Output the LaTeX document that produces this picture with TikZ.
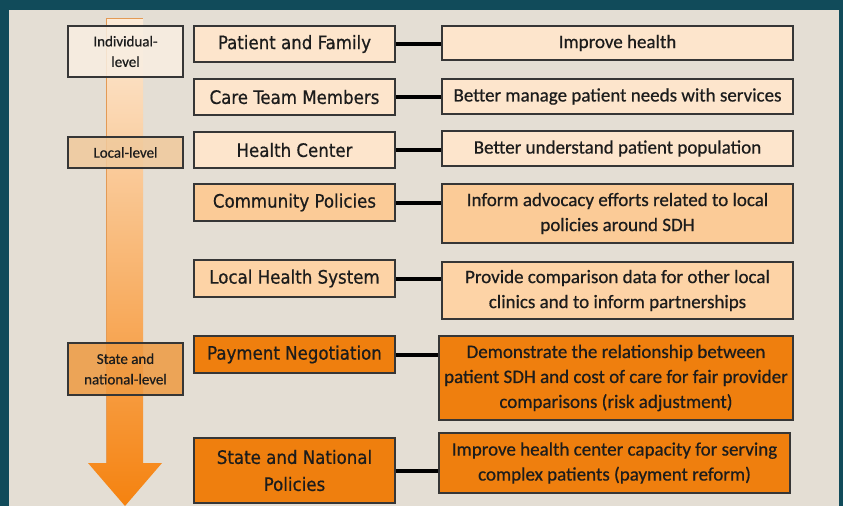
\documentclass[tikz,border=0pt]{standalone}
\usepackage{fontspec}
\setmainfont[FakeBold=0.6]{Carlito}
\newfontfamily\midfont[FakeBold=0.6]{DejaVu Sans Condensed}
\usetikzlibrary{positioning}
\definecolor{frame}{HTML}{114B5A}
\definecolor{bg}{HTML}{E4DED4}
\definecolor{fillA}{HTML}{FDE5CC}
\definecolor{fillB}{HTML}{FBCB97}
\definecolor{fillC}{HTML}{FDD3A6}
\definecolor{fillO}{HTML}{EF7F0E}
\definecolor{lvlA}{HTML}{F8EEE2}
\definecolor{lvlB}{HTML}{F0CA9C}
\definecolor{lvlC}{HTML}{EE9A42}
\definecolor{bord}{HTML}{363636}
\definecolor{txt}{HTML}{1C1C1C}
\definecolor{arrTop}{HTML}{FCEBD8}
\definecolor{arrBot}{HTML}{F5820F}
\definecolor{arrLine}{HTML}{E39A55}
\tikzset{
  box/.style={draw=bord, line width=1.6pt, inner sep=0pt, align=center, text=txt},
  midbox/.style={box, minimum width=201pt, font={\midfont\fontsize{18.5}{27}\selectfont}},
  rightbox/.style={box, font={\fontsize{19}{25}\selectfont}},
  lvlbox/.style={box, minimum width=115pt, fill opacity=0.85, text opacity=1, font={\fontsize{15}{20.5}\selectfont}},
  link/.style={line width=4pt, black}
}
\begin{document}
\begin{tikzpicture}[x=1pt,y=-1pt]
\useasboundingbox (0,0) rectangle (843,506);
% frame and background
\fill[frame] (0,0) rectangle (843,506);
\fill[bg] (9,10) rectangle (839,506);
% big arrow
\shade[top color=arrTop, bottom color=arrBot]
  (106,18) -- (143,18) -- (143,463) -- (162,463) -- (125,506) -- (88,463) -- (106,463) -- cycle;
\draw[arrLine, line width=0.8pt] (106,463) -- (106,18) -- (143,18);
% level boxes
\node[lvlbox, fill=lvlA, minimum height=51pt] (il) at (125.5,51.5) {Individual-\\level};
\node[lvlbox, fill=lvlB, minimum height=31pt] (ll) at (125.5,152.5) {Local-level};
\node[lvlbox, fill=lvlC, minimum height=52pt] (sl) at (125.5,369) {State and\\national-level};
% middle column
\node[midbox, fill=fillA, minimum height=36pt] (pf) at (294.5,44) {Patient and Family};
\node[midbox, fill=fillA, minimum height=36pt] (ct) at (294.5,97) {Care Team Members};
\node[midbox, fill=fillA, minimum height=36pt] (hc) at (294.5,150) {Health Center};
\node[midbox, fill=fillB, minimum height=37pt] (cp) at (294.5,202.5) {Community Policies};
\node[midbox, fill=fillC, minimum height=37pt] (lh) at (294.5,278.5) {Local Health System};
\node[midbox, fill=fillO, minimum height=37pt] (pn) at (294.5,354.5) {Payment Negotiation};
\node[midbox, fill=fillO, minimum height=65pt] (sn) at (294.5,470.5) {State and National\\Policies};
% right column
\node[rightbox, fill=fillA, minimum width=351pt, minimum height=34pt] (ih) at (617.5,43) {Improve health};
\node[rightbox, fill=fillA, minimum width=351pt, minimum height=35pt] (bm) at (617.5,96.5) {Better manage patient needs with services};
\node[rightbox, fill=fillA, minimum width=351pt, minimum height=35pt] (bu) at (617.5,148.5) {Better understand patient population};
\node[rightbox, fill=fillB, minimum width=351pt, minimum height=59pt] (ia) at (617.5,213.5) {Inform advocacy efforts related to local\\policies around SDH};
\node[rightbox, fill=fillC, minimum width=351pt, minimum height=57pt] (pc) at (617.5,290.5) {Provide comparison data for other local\\clinics and to inform partnerships};
\node[rightbox, fill=fillO, minimum width=354pt, minimum height=84pt] (dm) at (616,378) {Demonstrate the relationship between\\patient SDH and cost of care for fair provider\\comparisons (risk adjustment)};
\node[rightbox, fill=fillO, minimum width=351pt, minimum height=60pt] (ic) at (614.5,463) {Improve health center capacity for serving\\complex patients (payment reform)};
% connectors
\draw[link] (pf.east) -- (pf.east -| ih.west);
\draw[link] (ct.east) -- (ct.east -| bm.west);
\draw[link] (hc.east) -- (hc.east -| bu.west);
\draw[link] (cp.east) -- (cp.east -| ia.west);
\draw[link] (lh.east) -- (lh.east -| pc.west);
\draw[link] (pn.east) -- (pn.east -| dm.west);
\draw[link] (sn.east) -- (sn.east -| ic.west);
\end{tikzpicture}
\end{document}
